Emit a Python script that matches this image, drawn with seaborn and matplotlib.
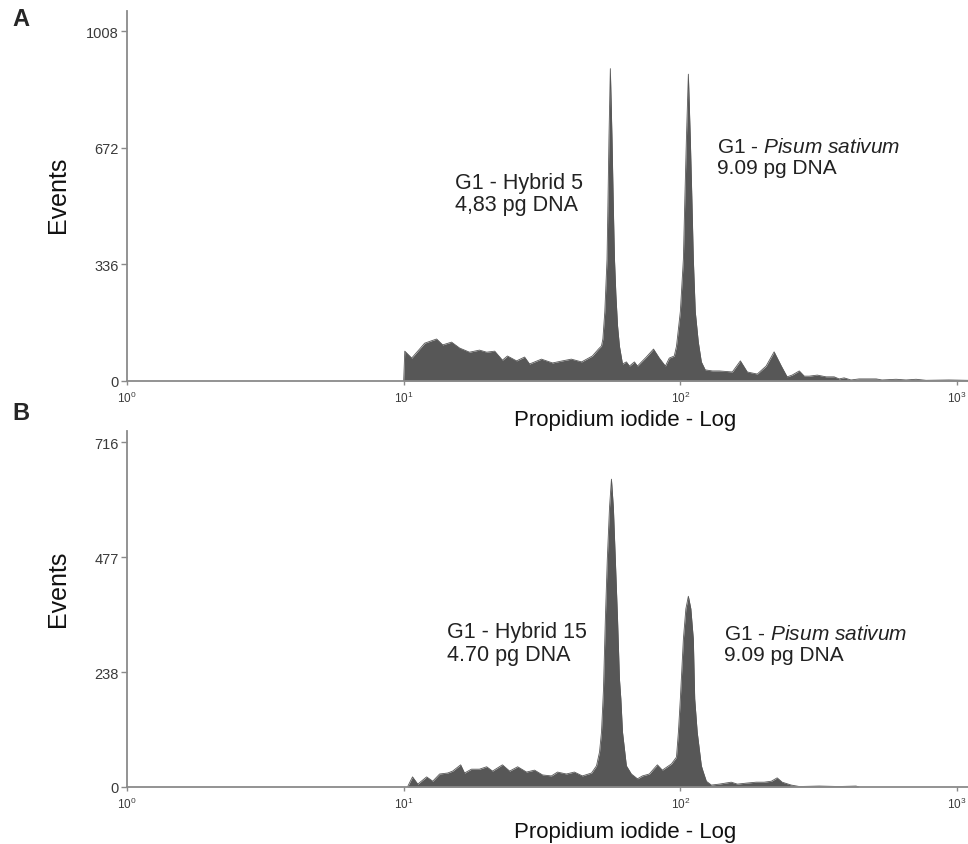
import numpy as np
import pandas as pd
import seaborn as sns
import matplotlib.pyplot as plt

# log10 of propidium iodide fluorescence channel, and event counts
# Panel A: Hybrid 5 + Pisum sativum standard
log_pi_a = [1.000, 1.004, 1.029, 1.076, 1.119, 1.141, 1.173, 1.202, 1.238, 1.274,
            1.300, 1.329, 1.357, 1.375, 1.408, 1.437, 1.455, 1.498, 1.538, 1.574,
            1.606, 1.643, 1.682, 1.704, 1.715, 1.720, 1.727, 1.735, 1.738, 1.742,
            1.747, 1.753, 1.758, 1.762, 1.767, 1.773, 1.780, 1.791, 1.805, 1.816,
            1.834, 1.845, 1.877, 1.903, 1.924, 1.946, 1.960, 1.978, 1.986, 1.989,
            2.000, 2.011, 2.016, 2.022, 2.029, 2.036, 2.042, 2.047, 2.054, 2.065,
            2.076, 2.090, 2.116, 2.141, 2.188, 2.217, 2.242, 2.278, 2.310, 2.339,
            2.365, 2.386, 2.404, 2.430, 2.448, 2.466, 2.495, 2.527, 2.556, 2.574,
            2.592, 2.617, 2.646, 2.708, 2.729, 2.780, 2.816, 2.852, 2.888, 2.971,
            3.036, 3.150]
events_a = [0, 86, 66, 109, 121, 104, 112, 95, 83, 89,
            83, 86, 60, 72, 58, 69, 49, 63, 52, 58,
            63, 55, 72, 92, 101, 121, 200, 351, 495, 700,
            900, 700, 495, 351, 250, 160, 100, 49, 55, 43,
            55, 43, 69, 92, 66, 43, 66, 72, 100, 121,
            200, 351, 516, 700, 884, 700, 516, 351, 200, 112,
            55, 32, 29, 29, 26, 58, 26, 20, 43, 84,
            43, 12, 17, 29, 14, 14, 17, 12, 12, 6,
            9, 3, 6, 6, 3, 5, 3, 5, 2, 3,
            2, 0]

# Panel B: Hybrid 15 + Pisum sativum standard
log_pi_b = [1.014, 1.018, 1.032, 1.051, 1.083, 1.105, 1.130, 1.159, 1.177, 1.206,
            1.220, 1.245, 1.274, 1.300, 1.321, 1.357, 1.383, 1.412, 1.444, 1.473,
            1.502, 1.534, 1.556, 1.588, 1.617, 1.646, 1.679, 1.697, 1.708, 1.715,
            1.722, 1.729, 1.736, 1.744, 1.751, 1.758, 1.765, 1.773, 1.780, 1.785,
            1.791, 1.805, 1.823, 1.845, 1.863, 1.888, 1.903, 1.917, 1.935, 1.968,
            1.986, 1.993, 2.000, 2.011, 2.020, 2.029, 2.038, 2.047, 2.052, 2.061,
            2.076, 2.083, 2.094, 2.112, 2.141, 2.184, 2.206, 2.238, 2.274, 2.303,
            2.329, 2.350, 2.368, 2.401, 2.430, 2.502, 2.574, 2.635, 2.646]
events_b = [0, 5, 21, 6, 21, 12, 27, 29, 33, 46,
            29, 37, 37, 42, 33, 46, 33, 42, 31, 35,
            25, 23, 31, 27, 31, 23, 29, 44, 73, 114,
            200, 349, 473, 580, 639, 580, 473, 349, 224, 183,
            114, 44, 27, 17, 23, 27, 37, 46, 35, 48,
            62, 114, 183, 307, 370, 396, 370, 307, 183, 114,
            44, 31, 12, 4, 6, 10, 6, 8, 10, 10,
            12, 19, 10, 4, 1, 2, 1, 2, 0]

panels = [
    dict(letter='A', log_pi=log_pi_a, events=events_a, yticks=[0, 336, 672, 1008], ytop=1066,
         sample='G1 - Hybrid 5\n4,83 pg DNA', sample_xy=(15.3, 603),
         std_xy=(136, 702)),
    dict(letter='B', log_pi=log_pi_b, events=events_b, yticks=[0, 238, 477, 716], ytop=739,
         sample='G1 - Hybrid 15\n4.70 pg DNA', sample_xy=(14.4, 344),
         std_xy=(144, 338)),
]

sns.set_style("white")
plt.rcParams['font.family'] = ['Liberation Sans', 'DejaVu Sans']
plt.rcParams['mathtext.fontset'] = 'custom'
plt.rcParams['mathtext.rm'] = 'Liberation Sans'
plt.rcParams['mathtext.it'] = 'Liberation Sans:italic'

fill_col = '#575757'
axis_col = '#8a8a8a'
W, H = 968, 845
fig = plt.figure(figsize=(W / 100, H / 100), dpi=100)

# axes rectangles in pixels: (left, bottom_y, top_y)
rects = [(127, 382, 12), (127, 788, 432)]
xlab_y = [-0.075, -0.0965]
ylab_y = [0.505, 0.56]
letter_y = [20, 414]

for i, p in enumerate(panels):
    left, bot, top = rects[i]
    ax = fig.add_axes([left / W, 1 - bot / H, 996 / W, (bot - top) / H])
    df = pd.DataFrame({'pi': 10 ** np.array(p['log_pi']), 'events': p['events']})
    ax.fill_between(df['pi'], 0, df['events'], color=fill_col, lw=0)
    sns.lineplot(data=df, x='pi', y='events', ax=ax, color=fill_col, lw=0.6)
    ax.set_xscale('log')
    ax.set_xlim(1, 10 ** 3.6)
    ax.set_ylim(0, p['ytop'])
    ax.set_xticks([1, 10, 100, 1000])
    ax.minorticks_off()
    ax.set_yticks(p['yticks'])
    ax.set_yticklabels([str(v) for v in p['yticks']])
    for s in ['top', 'right']:
        ax.spines[s].set_visible(False)
    for s in ['left', 'bottom']:
        ax.spines[s].set_color(axis_col)
        ax.spines[s].set_linewidth(1.3)
    ax.tick_params(axis='y', length=4, width=1, color=axis_col, labelsize=10.5,
                   labelcolor='#3a3a3a', pad=2, left=True)
    ax.tick_params(axis='x', length=3, width=1, color=axis_col, labelsize=8.5,
                   labelcolor='#3a3a3a', pad=3, bottom=True)
    ax.set_xlabel('Propidium iodide - Log', fontsize=16, color='#111111')
    ax.xaxis.set_label_coords(0.5, xlab_y[i])
    ax.xaxis.label.set_va('top')
    ax.set_ylabel('Events', fontsize=18, color='#111111')
    ax.yaxis.set_label_coords(-0.057, ylab_y[i])

    ax.text(p['sample_xy'][0], p['sample_xy'][1], p['sample'], fontsize=15.5,
            color='#222222', va='top', ha='left', linespacing=1.08)
    ax.text(p['std_xy'][0], p['std_xy'][1], 'G1 - $\\it{Pisum\\ sativum}$\n9.09 pg DNA',
            fontsize=15, color='#222222', va='top', ha='left', linespacing=1.1)

    fig.text(12 / W, 1 - letter_y[i] / H, p['letter'], fontsize=17, fontweight='bold',
             va='center', ha='left')

fig.savefig('out.png', dpi=100)
